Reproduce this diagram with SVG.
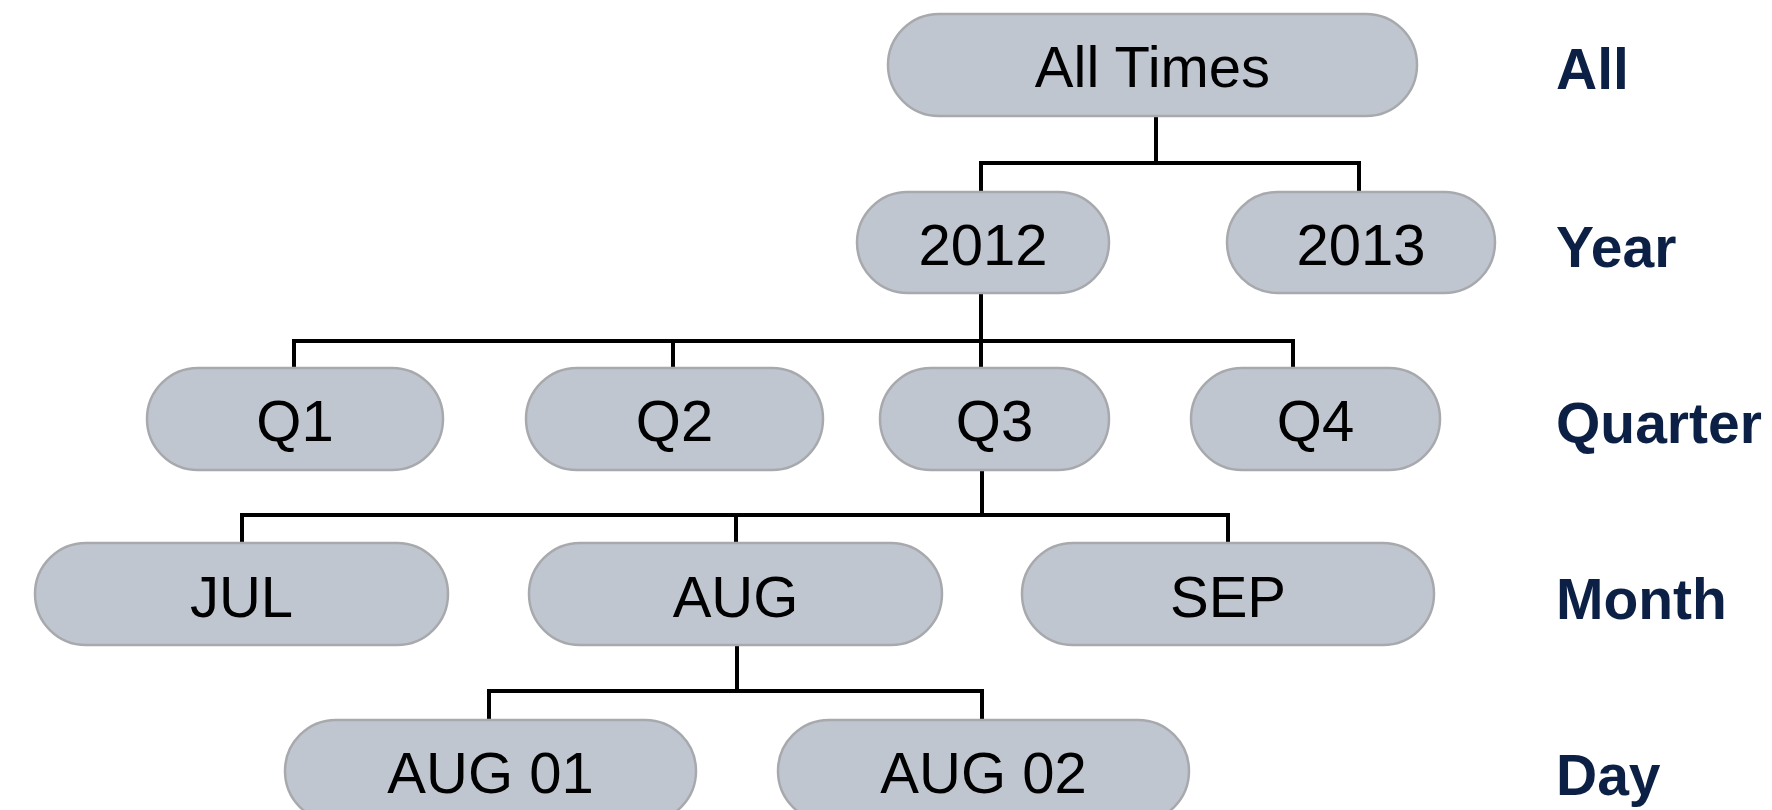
<svg xmlns="http://www.w3.org/2000/svg" width="1772" height="810" viewBox="0 0 1772 810">
<style>
.n rect{fill:#c0c6d0;stroke:#a7a9ad;stroke-width:2.5}
.n text{font-family:"Liberation Sans",Arial,sans-serif;font-size:58px;fill:#000;text-anchor:middle}
.lvl{font-family:"Liberation Sans",Arial,sans-serif;font-weight:bold;font-size:57px;fill:#0c1f45}
.c path{fill:none;stroke:#000;stroke-width:4}
</style>
<rect width="1772" height="810" fill="#fff"/>
<g id="connectors" class="c">
<path d="M1156 116V163M979 163H1361M981 163V192M1359 163V192"/>
<path d="M981 293V368M292 341H1295M294 341V368M673 341V368M1293 341V368"/>
<path d="M982 470V515M240 515H1230M242 515V543M736 515V543M1228 515V543"/>
<path d="M737 645V691M487 691H984M489 691V720M982 691V720"/>
</g>
<g id="all" class="n"><rect x="888" y="14" width="529" height="102" rx="51"/><text x="1152.5" y="87">All Times</text></g>
<g id="y2012" class="n"><rect x="857" y="192" width="252" height="101" rx="50.5"/><text x="983" y="265">2012</text></g>
<g id="y2013" class="n"><rect x="1227" y="192" width="268" height="101" rx="50.5"/><text x="1361" y="265">2013</text></g>
<g id="q1" class="n"><rect x="147" y="368" width="296" height="102" rx="51"/><text x="295" y="441">Q1</text></g>
<g id="q2" class="n"><rect x="526" y="368" width="297" height="102" rx="51"/><text x="674.5" y="441">Q2</text></g>
<g id="q3" class="n"><rect x="880" y="368" width="229" height="102" rx="51"/><text x="994.5" y="441">Q3</text></g>
<g id="q4" class="n"><rect x="1191" y="368" width="249" height="102" rx="51"/><text x="1315.5" y="441">Q4</text></g>
<g id="jul" class="n"><rect x="35" y="543" width="413" height="102" rx="51"/><text x="241.5" y="617">JUL</text></g>
<g id="aug" class="n"><rect x="529" y="543" width="413" height="102" rx="51"/><text x="735.5" y="617">AUG</text></g>
<g id="sep" class="n"><rect x="1022" y="543" width="412" height="102" rx="51"/><text x="1228" y="617">SEP</text></g>
<g id="aug01" class="n"><rect x="285" y="720" width="411" height="102" rx="51"/><text x="490.5" y="793">AUG 01</text></g>
<g id="aug02" class="n"><rect x="778" y="720" width="411" height="102" rx="51"/><text x="983.5" y="793">AUG 02</text></g>
<g id="levels">
<text class="lvl" x="1556" y="89">All</text>
<text class="lvl" x="1556" y="267">Year</text>
<text class="lvl" x="1556" y="443">Quarter</text>
<text class="lvl" x="1556" y="619">Month</text>
<text class="lvl" x="1556" y="795">Day</text>
</g>
</svg>
